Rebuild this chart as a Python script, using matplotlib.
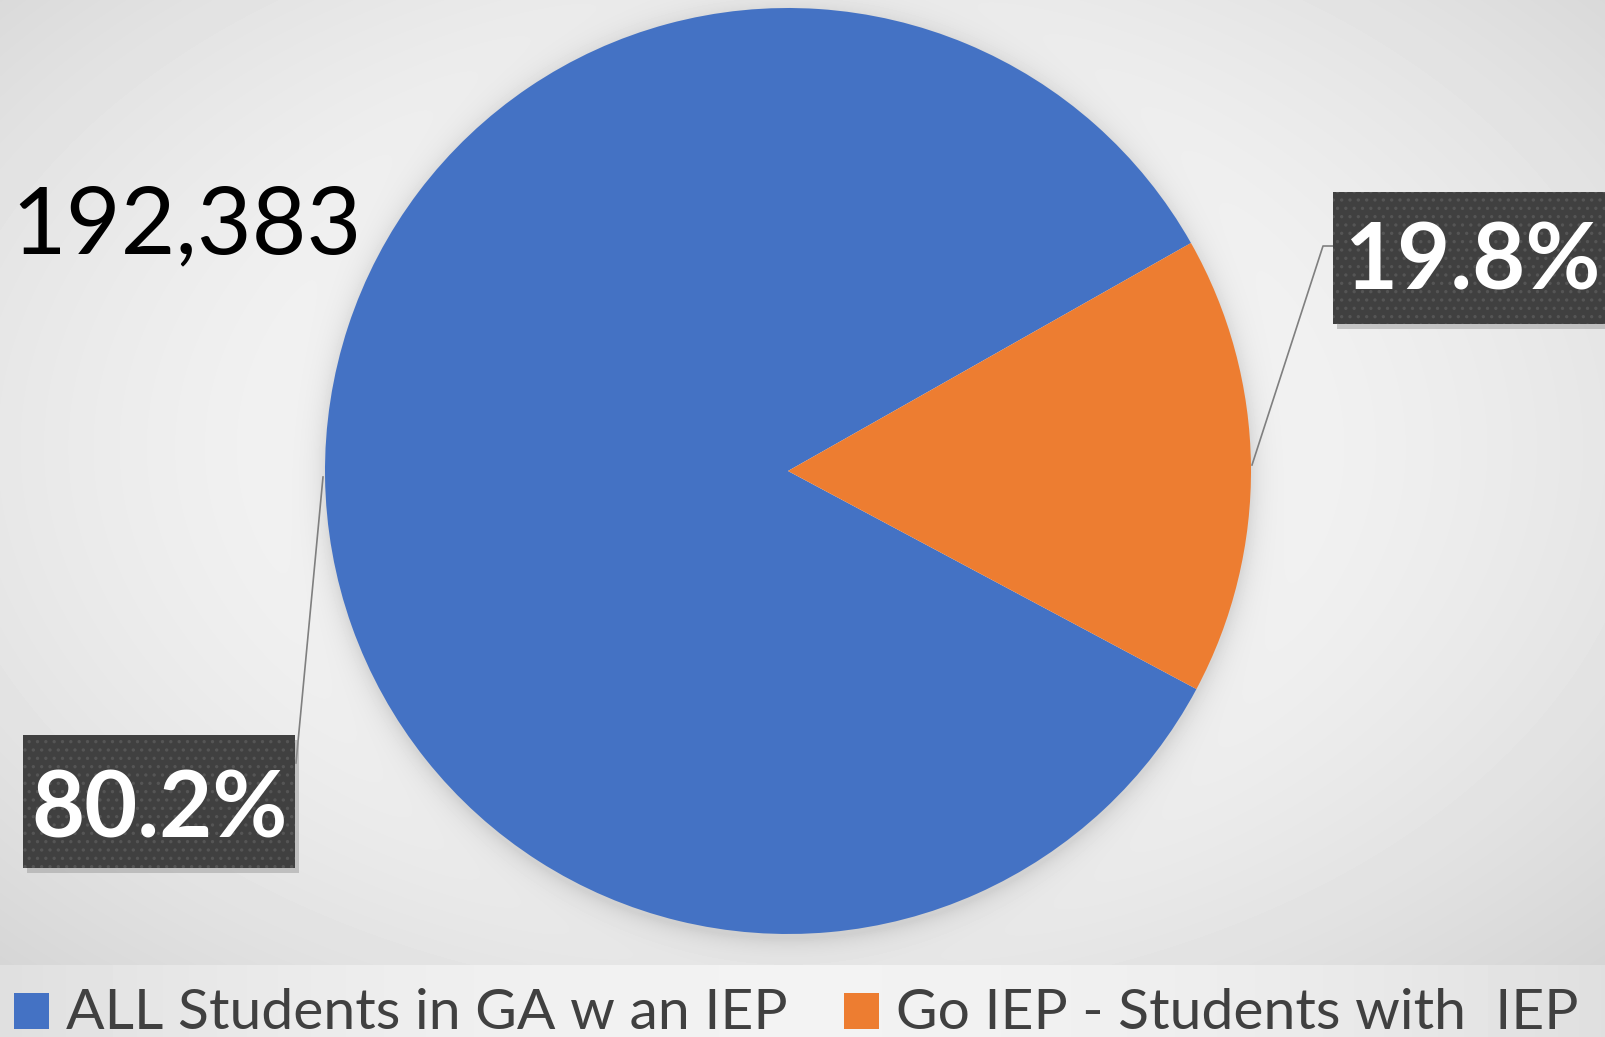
import numpy as np
import matplotlib
matplotlib.use("Agg")
import matplotlib.pyplot as plt
from matplotlib.patches import Rectangle

# data
categories = ["ALL Students in GA w an IEP", "Go IEP - Students with  IEP"]
wedge_sizes = [84.0, 16.0]          # shares as drawn in the pie
label_texts = ["80.2%", "19.8%"]    # labels printed on the chart
total_text = "192,383"
colors = ["#4472C4", "#ED7D31"]

W, H = 1605, 1037
plt.rcParams["font.family"] = ["Lato", "DejaVu Sans"]
plt.rcParams["hatch.linewidth"] = 1.2

fig = plt.figure(figsize=(W / 100, H / 100), dpi=100)
ax = fig.add_axes([0, 0, 1, 1])

# background: soft radial gradient, pie shadow and a lighter legend band
cx, cy, R = 788, 566, 463
yy, xx = np.mgrid[0:H, 0:W]
ymp = H - yy
nx = (xx - 790) / 800
ny = (ymp - 590) / 520
bg = 0.975 - 0.07 * (nx ** 2 + ny ** 2)
d = np.hypot(xx - cx, ymp - (cy - 4))
shadow = np.where(d > R - 5, 0.10 * np.exp(-np.clip(d - R, 0, None) / 12), 0)
bg = bg - shadow
band = yy >= 965
bg[band] = (0.95 - 0.075 * ((xx - 800) / 800) ** 2)[band]
ax.imshow(bg, extent=(0, W, 0, H), origin="upper", cmap="gray",
          vmin=0, vmax=1, interpolation="bilinear", zorder=0)

wedges, _ = ax.pie(wedge_sizes, colors=colors, startangle=29.5,
                   center=(cx, cy), radius=R, counterclock=True,
                   wedgeprops=dict(linewidth=0))
for w in wedges:
    w.set_zorder(2)

# leader lines
ax.plot([1252, 1323, 1334], [572, 791, 791], color="#7f7f7f", lw=1.2, zorder=3)
ax.plot([323, 296], [560, 274], color="#7f7f7f", lw=1.2, zorder=3)

# dark label boxes
boxes = [(23, 169, 272, 133), (1333, 713, 280, 132)]
text_pos = [(160, 200), (1472, 747)]
for (bx, by, bw, bh), (tx, ty), lab in zip(boxes, text_pos, label_texts):
    ax.add_patch(Rectangle((bx + 4, by - 5), bw, bh, facecolor="#9a9a9a",
                           edgecolor="none", alpha=0.5, zorder=3))
    ax.add_patch(Rectangle((bx, by), bw, bh, facecolor="#404040",
                           edgecolor="#555555", hatch="..", lw=0, zorder=4))
    ax.text(tx, ty, lab, color="white", fontsize=66, fontweight="bold",
            ha="center", va="baseline", zorder=5)

ax.text(11, 784, total_text, color="black", fontsize=68, ha="left",
        va="baseline", zorder=5)

# legend
leg_sq = [14, 844]
for sx, name, c in zip(leg_sq, categories, colors):
    ax.add_patch(Rectangle((sx, 8), 35, 36, facecolor=c, edgecolor="none", zorder=4))
    ax.text(sx + 52, 8, name, color="#404040", fontsize=41, ha="left",
            va="baseline", zorder=5)

ax.set_xlim(0, W)
ax.set_ylim(0, H)
ax.set_aspect("auto")
ax.axis("off")

fig.savefig("out.png", dpi=100)
